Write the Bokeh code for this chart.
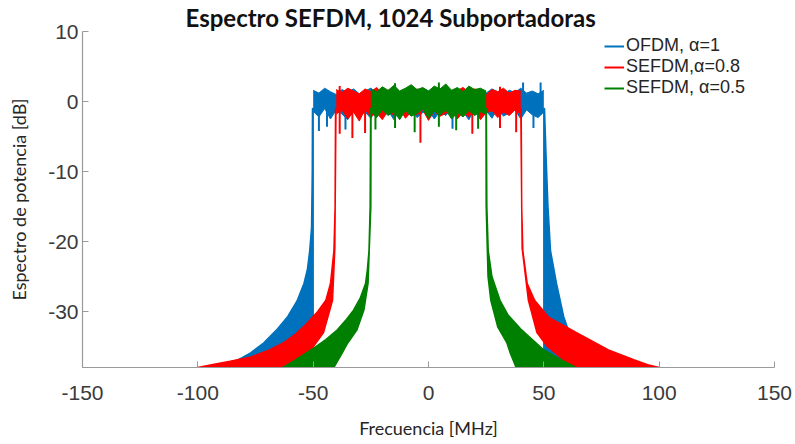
from bokeh.plotting import figure
from bokeh.models import Range1d, FixedTicker, Legend, LegendItem, Title
from bokeh.embed import file_html
from bokeh.resources import INLINE

# ---------------- data ----------------
title_text = "Espectro SEFDM, 1024 Subportadoras"
x_label = "Frecuencia [MHz]"
y_label = "Espectro de potencia [dB]"
x_ticks = [-150, -100, -50, 0, 50, 100, 150]
x_tick_labels = ["-150", "-100", "-50", "0", "50", "100", "150"]
y_ticks = [-30, -20, -10, 0, 10]
y_tick_labels = ["-30", "-20", "-10", "0", "10"]
series_names = ["OFDM, \u03b1=1", "SEFDM,\u03b1=0.8", "SEFDM, \u03b1=0.5"]
series_colors = ["#0072BD", "#FF0000", "#008000"]

# in-band power (upper / lower envelope of the noisy trace), dB
blue_f = [-50, -47.5, -45, -42.5, -40, -37.5, -35, -32.5, -30, -27.5, -25, -22.5, -20, -17.5, -15, -12.5,
          -10, -7.5, -5, -2.5, 0, 2.5, 5, 7.5, 10, 12.5, 15, 17.5, 20, 22.5, 25, 27.5, 30, 32.5, 35, 37.5,
          40, 42.5, 45, 47.5, 50]
blue_hi = [1.6, 1.2, 1.9, 1.4, 1.0, 1.7, 1.3, 1.8, 1.1, 1.5, 1.9, 1.2, 1.6, 1.0, 1.8, 1.4, 1.1, 1.7, 1.3, 1.9,
           1.5, 1.2, 1.8, 1.0, 1.6, 1.3, 1.9, 1.1, 1.5, 1.7, 1.2, 1.8, 1.4, 1.0, 1.6, 1.3, 1.9, 1.2, 1.5, 1.1, 1.6]
blue_lo = [-1.4, -2.2, -1.0, -2.5, -1.2, -1.8, -2.6, -1.1, -2.1, -1.5, -2.4, -1.0, -2.0, -1.3, -2.6, -1.2,
           -1.9, -0.9, -2.3, -1.6, -1.2, -2.5, -1.4, -2.0, -1.0, -2.2, -1.5, -2.6, -1.1, -1.8, -1.3, -2.4,
           -1.0, -2.1, -1.6, -1.2, -2.5, -1.2, -1.9, -2.3, -1.5]

red_f = [-40, -37.5, -35, -32.5, -30, -27.5, -25, -22.5, -20, -17.5, -15, -12.5, -10, -7.5, -5, -2.5, 0,
         2.5, 5, 7.5, 10, 12.5, 15, 17.5, 20, 22.5, 25, 27.5, 30, 32.5, 35, 37.5, 40]
red_hi = [1.7, 1.3, 1.9, 1.5, 1.1, 1.8, 1.4, 2.0, 1.2, 1.6, 1.9, 1.3, 1.7, 1.0, 1.8, 1.5, 1.2, 1.9, 1.4,
          1.7, 1.1, 1.6, 2.0, 1.3, 1.8, 1.5, 1.0, 1.7, 1.4, 1.9, 1.2, 1.6, 1.5]
red_lo = [-1.8, -1.2, -2.5, -1.5, -2.8, -1.1, -2.2, -1.6, -2.6, -1.3, -2.0, -1.0, -2.4, -1.5, -1.9, -1.2,
          -2.7, -1.4, -2.1, -1.7, -1.1, -2.5, -1.5, -2.2, -1.0, -2.6, -1.6, -1.3, -2.3, -1.5, -2.0, -1.2, -1.8]

green_f = [-25, -22.5, -20, -17.5, -15, -12.5, -10, -7.5, -5, -2.5, 0, 2.5, 5, 7.5, 10, 12.5, 15, 17.5,
           20, 22.5, 25]
green_hi = [1.8, 1.4, 2.1, 1.6, 2.3, 1.5, 1.9, 2.4, 1.7, 2.0, 1.5, 2.2, 1.8, 2.5, 1.6, 2.0, 1.4, 2.2, 1.7, 1.9, 1.5]
green_lo = [-1.5, -2.3, -1.2, -2.0, -1.4, -2.6, -1.3, -2.1, -1.7, -1.1, -2.4, -1.4, -1.9, -1.2, -2.5, -1.6,
            -2.2, -1.3, -2.0, -1.5, -1.8]

# isolated spikes of the in-band trace (frequency, top dB, bottom dB)
blue_spk_f = [-47.5, -44.0, -36.0, 10.4, 41.0, 45.5, 48.6]
blue_spk_top = [1.0, 1.0, 0.0, 0.0, 2.7, 0.0, 2.7]
blue_spk_bot = [-4.2, -3.6, -4.0, -3.9, 0.0, -3.8, 0.0]
red_spk_f = [-38.5, -33.0, -27.5, -3.5, 19.0, 31.0, 38.0]
red_spk_top = [2.2, 0.0, 0.0, 0.0, 0.0, 2.1, 0.0]
red_spk_bot = [-4.6, -5.2, -4.5, -5.9, -4.6, -3.8, -4.4]
green_spk_f = [-23.0, -14.5, -6.0, 4.5, 12.0, 21.5]
green_spk_top = [0.0, 2.6, 0.0, 2.7, 0.0, 0.0]
green_spk_bot = [-4.0, -3.8, -4.4, -3.6, -4.1, -3.9]

# out-of-band side-lobe region: outer envelope (top -> bottom) and inner null edge (bottom -> top)
blue_L_out_db = [-1, -10, -18, -21.3, -24, -26, -28.5, -30.7, -32.5, -34.5, -36, -37, -38]
blue_L_out_f = [-50.3, -50.4, -50.7, -51.5, -52.5, -54, -57, -61, -65.5, -71.5, -77.5, -83, -87]
blue_L_in_db = [-38, -1]
blue_L_in_f = [-50, -50]
blue_R_out_db = [-1, -8, -15, -21.3, -26, -30.7, -34.5, -36.5, -38]
blue_R_out_f = [50.3, 51.0, 51.8, 52.9, 55.5, 58.6, 62.5, 65, 68]
blue_R_in_db = [-38, -1]
blue_R_in_f = [50, 50]

red_L_out_db = [-1, -15, -21.3, -26, -28.4, -30, -31.8, -33.2, -34.5, -35.5, -36.5, -37.1, -37.6, -38]
red_L_out_f = [-40.3, -40.5, -41, -42.5, -44.5, -48, -53, -57.5, -63, -69, -77, -86, -94, -100]
red_L_in_db = [-38, -37.3, -35.5, -33, -28.4, -21, -1]
red_L_in_f = [-65, -60, -51, -45.5, -41.6, -40.6, -40.1]
red_R_out_db = [-1, -15, -21.3, -26, -28.4, -30.8, -33, -35.5, -36.9, -37.6, -38]
red_R_out_f = [40.2, 40.4, 40.9, 42.8, 46, 52, 64, 78, 89, 95, 100]
red_R_in_db = [-38, -36.5, -35, -33, -28.4, -21, -1]
red_R_in_f = [63, 57, 51.5, 47, 43.3, 40.6, 40.0]

green_L_out_db = [-1, -15, -21.3, -24, -26, -28, -29.8, -31.3, -32.6, -34, -35.5, -37, -38]
green_L_out_f = [-25.1, -25.3, -25.8, -26.5, -27.3, -29.5, -32.5, -36, -39.5, -44.5, -51, -58, -63]
green_L_in_db = [-38, -36, -34.5, -32.6, -29.8, -26, -15, -1]
green_L_in_f = [-41, -37.5, -35, -31, -28, -26.2, -25.0, -24.9]
green_R_out_db = [-1, -15, -21.3, -25, -28.4, -30.5, -32.5, -34, -35.5, -37, -38]
green_R_out_f = [25.1, 25.3, 25.9, 27.5, 31, 34.5, 40, 45, 50, 58, 64]
green_R_in_db = [-38, -36, -34.5, -32.2, -28.4, -25, -15, -1]
green_R_in_f = [38, 35.5, 34, 30, 27, 25.8, 25.0, 24.9]

# ---------------- figure ----------------
p = figure(width=795, height=444, x_range=Range1d(-150, 150), y_range=Range1d(-38, 10),
           output_backend="svg", toolbar_location=None, title=None,
           min_border_left=82, min_border_right=21, min_border_top=30, min_border_bottom=77)
p.outline_line_color = None
p.xgrid.visible = False
p.ygrid.visible = False
p.background_fill_color = "white"
p.border_fill_color = "white"

for ax in (p.xaxis[0], p.yaxis[0]):
    ax.axis_line_color = "#9a9a9a"
    ax.axis_line_width = 1.2
    ax.major_tick_line_color = "#9a9a9a"
    ax.major_tick_in = 6
    ax.major_tick_out = 0
    ax.minor_tick_line_color = None
    ax.major_label_text_font = "Liberation Sans"
    ax.major_label_text_font_size = "21px"
    ax.major_label_text_color = "#3a3a3a"
    ax.axis_label_text_font = "Lato"
    ax.axis_label_text_font_size = "18px"
    ax.axis_label_text_font_style = "normal"
    ax.axis_label_text_color = "#262626"

p.xaxis.ticker = FixedTicker(ticks=x_ticks)
p.yaxis.ticker = FixedTicker(ticks=y_ticks)
p.xaxis.major_label_overrides = dict(zip(x_ticks, x_tick_labels))
p.yaxis.major_label_overrides = dict(zip(y_ticks, y_tick_labels))
p.xaxis.major_label_standoff = 18
p.yaxis.major_label_standoff = 4
p.xaxis.axis_label = x_label
p.xaxis.axis_label_standoff = 14
p.yaxis.axis_label = y_label
p.yaxis.axis_label_standoff = 15

series = [
    (blue_f, blue_hi, blue_lo, blue_spk_f, blue_spk_top, blue_spk_bot,
     [(blue_L_out_f, blue_L_out_db, blue_L_in_f, blue_L_in_db), (blue_R_out_f, blue_R_out_db, blue_R_in_f, blue_R_in_db)]),
    (red_f, red_hi, red_lo, red_spk_f, red_spk_top, red_spk_bot,
     [(red_L_out_f, red_L_out_db, red_L_in_f, red_L_in_db), (red_R_out_f, red_R_out_db, red_R_in_f, red_R_in_db)]),
    (green_f, green_hi, green_lo, green_spk_f, green_spk_top, green_spk_bot,
     [(green_L_out_f, green_L_out_db, green_L_in_f, green_L_in_db), (green_R_out_f, green_R_out_db, green_R_in_f, green_R_in_db)]),
]

legend_items = []
for (f, hi, lo, sf, st, sb, skirts), name, col in zip(series, series_names, series_colors):
    p.varea(x=f, y1=lo, y2=hi, fill_color=col)
    p.line(f, hi, line_color=col, line_width=1)
    p.line(f, lo, line_color=col, line_width=1)
    seg = p.segment(x0=sf, y0=st, x1=sf, y1=sb, line_color=col, line_width=2)
    for of, odb, inf, indb in skirts:
        p.patch(list(of) + list(inf), list(odb) + list(indb), fill_color=col, line_color=col, line_width=1.5)
    legend_items.append(LegendItem(label=name, renderers=[seg]))

legend = Legend(items=legend_items, location=(522, 269), orientation="vertical",
                label_text_font="Liberation Sans", label_text_font_size="18px", label_text_color="#262626",
                glyph_width=20, glyph_height=20, label_height=20, label_standoff=2, spacing=0,
                padding=5, margin=0, border_line_color=None, background_fill_alpha=0)
p.add_layout(legend, "center")

p.add_layout(Title(text=title_text, align="left", offset=103, standoff=0,
                   text_font="Lato", text_font_size="24px", text_font_style="bold",
                   text_color="#111111"), "above")

open("out.html", "w").write(file_html(p, INLINE))
